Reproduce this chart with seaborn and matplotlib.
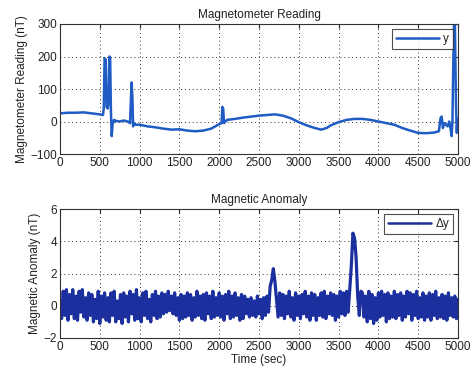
import matplotlib
matplotlib.use("Agg")
import matplotlib.pyplot as plt
import seaborn as sns
import numpy as np
import pandas as pd

# ---- Data: Magnetometer reading (top) ----
reading_time = [0, 50, 100, 200, 300, 400, 500, 540, 550, 560, 575, 585, 600, 610, 620, 630, 640, 650,
                660, 680, 700, 750, 800, 850, 880, 890, 900, 910, 918, 930, 950, 1000, 1100, 1200,
                1300, 1400, 1500, 1600, 1700, 1800, 1900, 1950, 2000, 2030, 2040, 2050, 2060, 2075,
                2100, 2200, 2300, 2400, 2500, 2600, 2700, 2800, 2900, 3000, 3100, 3200, 3280, 3350,
                3400, 3500, 3600, 3700, 3800, 3900, 4000, 4100, 4200, 4300, 4400, 4500, 4600, 4700,
                4760, 4780, 4795, 4810, 4830, 4850, 4870, 4890, 4905, 4920, 4930, 4940, 4950, 4960,
                4975, 4985, 4995, 5000]
reading_nT = [25, 26, 27, 27, 28, 25, 22, 20, 40, 195, 190, 45, 40, 60, 200, 195, 30, -45,
              -10, 5, 2, 0, 3, 0, -5, 60, 120, 70, -15, -5, -10, -10, -15, -18,
              -22, -25, -24, -28, -30, -28, -22, -15, -8, -5, 45, 40, -5, 0,
              5, 8, 12, 15, 18, 20, 22, 18, 10, -2, -12, -20, -25, -20,
              -12, -2, 5, 8, 8, 5, 0, -5, -10, -20, -28, -35, -36, -34,
              -30, 10, 15, -20, -5, -10, -15, 0, -20, -45, 0, 165, 300, 320,
              50, -35, 10, 5]

# ---- Data: Magnetic anomaly (bottom), sampled every 20 s ----
anomaly_step = 20
anomaly_nT = [
    0.3, -0.8, 0.9, -0.6, 1.0, -0.9, 0.7, -0.5, 1.0, -0.8,
    0.6, -0.9, 0.9, -0.4, 1.0, -0.7, 0.5, -0.9, 0.8, -0.6,
    0.7, -1.0, 0.4, -0.8, 0.9, -1.1, 0.6, -0.7, 0.8, -0.9,
    0.5, -1.0, 0.8, -0.6, 0.9, -1.0, 0.3, -0.8, 0.7, -1.1,
    0.8, -0.7, 0.6, -1.0, 0.9, -0.5, 0.7, -0.9, 1.0, -0.8,
    0.5, -1.0, 0.8, -0.6, 0.9, -0.8, 0.4, -1.0, 0.7, -0.6,
    0.9, -0.8, 0.6, -0.7, 0.8, -0.5, 0.7, -0.4, 0.9, -0.3,
    0.6, -0.5, 0.8, -0.6, 0.5, -0.9, 0.7, -0.8, 0.6, -0.7,
    0.8, -0.6, 0.7, -0.9, 0.5, -0.7, 0.9, -0.6, 0.6, -0.8,
    0.7, -0.9, 0.8, -0.5, 0.6, -0.8, 0.9, -0.7, 0.5, -0.6,
    0.8, -0.7, 0.6, -0.9, 0.7, -0.5, 0.9, -0.8, 0.6, -0.7,
    0.8, -0.6, 0.5, -0.9, 0.7, -0.8, 0.6, -0.5, 0.4, -0.7,
    0.5, -0.6, 0.3, -0.7, 0.6, -0.5, 0.4, -0.8, 0.5, -0.6,
    0.6, -0.4, 1.2, 1.6, 2.3, 1.5, 0.4, -0.7, 0.8, -0.6,
    0.7, -0.8, 0.6, -0.5, 0.9, -0.7, 0.5, -0.9, 0.8, -0.6,
    0.6, -0.8, 0.7, -0.5, 0.9, -0.7, 0.6, -0.9, 0.8, -0.6,
    0.7, -0.9, 0.5, -0.6, 0.8, -0.7, 0.9, -0.8, 0.6, -0.5,
    0.8, -0.6, 0.7, -0.9, 0.6, -0.7, 0.9, -0.5, 0.8, -0.6,
    0.9, -0.4, 1.0, 2.5, 4.5, 4.2, 3.0, 0.6, -0.6, 0.9,
    0.8, -0.7, 0.6, -1.0, 0.9, -0.8, 0.7, -1.1, 0.5, -0.9,
    0.8, -0.7, 0.9, -0.6, 0.7, -1.0, 0.8, -0.8, 0.6, -0.7,
    0.9, -0.8, 0.7, -0.6, 0.8, -0.9, 0.6, -0.7, 0.9, -0.5,
    0.8, -0.9, 0.7, -0.6, 0.9, -0.8, 0.5, -0.7, 0.8, -0.9,
    0.6, -0.7, 0.8, -0.9, 0.7, -0.6, 0.9, -0.8, 0.5, -0.7,
    0.7, -0.8, 0.6, -0.9, 0.8, -0.6, 0.5, -0.7, 0.6, -0.8,
    0.4,
]
anomaly_time = [i * anomaly_step for i in range(len(anomaly_nT))]

x_ticks = [0, 500, 1000, 1500, 2000, 2500, 3000, 3500, 4000, 4500, 5000]
top_yticks = [-100, 0, 100, 200, 300]
bot_yticks = [-2, 0, 2, 4, 6]

sns.set_style("white")
plt.rcParams['font.family'] = ['Liberation Sans', 'DejaVu Sans']

fig = plt.figure(figsize=(4.74, 3.73), dpi=100)
W, H = 474, 373
ax1 = fig.add_axes([60 / W, 1 - 154 / H, 398 / W, 130 / H])
ax2 = fig.add_axes([60 / W, 1 - 338 / H, 398 / W, 129 / H])

df1 = pd.DataFrame({"t": reading_time, "v": reading_nT})
df2 = pd.DataFrame({"t": anomaly_time, "v": anomaly_nT})

sns.lineplot(data=df1, x="t", y="v", ax=ax1, color="#1f5cc4", linewidth=1.8,
             estimator=None, sort=False, label="y")
sns.lineplot(data=df2, x="t", y="v", ax=ax2, color="#1c2f9e", linewidth=2.3,
             estimator=None, sort=False, label="Δy")

fs = 8.5
for ax, yt, ylim, title, ylabel in [
    (ax1, top_yticks, (-100, 300), "Magnetometer Reading", "Magnetometer Reading (nT)"),
    (ax2, bot_yticks, (-2, 6), "Magnetic Anomaly", "Magnetic Anomaly (nT)"),
]:
    ax.set_xlim(0, 5000)
    ax.set_ylim(*ylim)
    ax.set_xticks(x_ticks)
    ax.set_yticks(yt)
    ax.tick_params(direction="in", length=3, labelsize=fs, colors="#222222", pad=2,
                   top=True, right=True)
    ax.grid(True, linestyle=(0, (1, 3)), color="#333333", linewidth=0.7)
    for s in ax.spines.values():
        s.set_color("#333333")
        s.set_linewidth(0.8)
    ax.set_title(title, fontsize=fs, color="#222222", pad=4)
    ax.set_ylabel(ylabel, fontsize=fs, color="#222222", labelpad=2)
    ax.set_xlabel("")
    leg = ax.legend(loc="upper right", fontsize=fs, handlelength=3.6, frameon=True,
                    fancybox=False, borderpad=0.35, handletextpad=0.4,
                    borderaxespad=0.4)
    leg.get_frame().set_edgecolor("#222222")
    leg.get_frame().set_linewidth(0.8)
    for h in leg.get_lines():
        h.set_linewidth(1.8)

ax2.set_xlabel("Time (sec)", fontsize=fs, color="#222222", labelpad=1)

fig.savefig("out.png", dpi=100)
